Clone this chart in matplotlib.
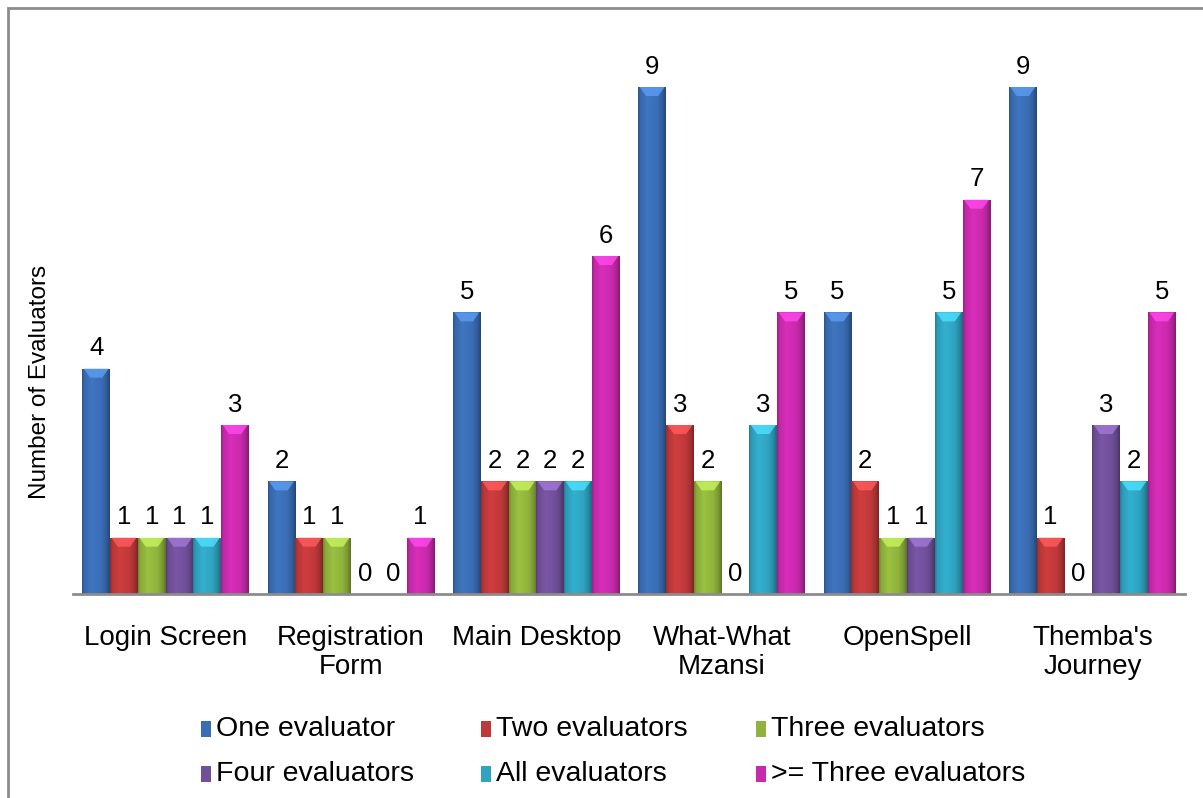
import numpy as np
import matplotlib
matplotlib.use("Agg")
import matplotlib.pyplot as plt
from matplotlib.patches import Rectangle, Polygon
from matplotlib.colors import to_rgb

plt.rcParams['font.family'] = ['Liberation Sans', 'DejaVu Sans']

categories = ["Login Screen", "Registration\nForm", "Main Desktop",
              "What-What\nMzansi", "OpenSpell", "Themba's\nJourney"]
series_names = ["One evaluator", "Two evaluators", "Three evaluators",
                "Four evaluators", "All evaluators", ">= Three evaluators"]
one_eval = [4, 2, 5, 9, 5, 9]
two_eval = [1, 1, 2, 3, 2, 1]
three_eval = [1, 1, 2, 2, 1, 0]
four_eval = [1, 0, 2, 0, 1, 3]
all_eval = [1, 0, 2, 3, 5, 2]
three_plus_eval = [3, 1, 6, 5, 7, 5]
series_values = [one_eval, two_eval, three_eval, four_eval, all_eval, three_plus_eval]
colors = ["#3a6db3", "#c0393a", "#8fb33c", "#71509a", "#2fa3c0", "#c92aad"]

W, H = 1203, 798
fig = plt.figure(figsize=(W / 100, H / 100), dpi=100)
ax = fig.add_axes([73 / W, 1 - 594 / H, 1112 / W, 534 / H])

n_series = len(series_values)
bar_w = 0.15
x = np.arange(len(categories))
ymax = 534 / 56.33
ax.set_xlim(-0.5, len(categories) - 0.5)
ax.set_ylim(0, ymax)


def shaded_bar(patch, base):
    """Paint a bevelled, glossy look into a bar patch."""
    x0, y0 = patch.get_x(), patch.get_y()
    w, h = patch.get_width(), patch.get_height()
    if h <= 0:
        return
    rgb = np.array(to_rgb(base))
    t = np.linspace(0, 1, 64)
    prof = np.interp(t, [0, 0.08, 0.35, 0.7, 0.88, 1.0],
                     [0.78, 0.95, 1.08, 1.0, 0.85, 0.65])
    img = np.clip(rgb[None, :] * prof[:, None], 0, 1)[None, :, :]
    im = ax.imshow(img, extent=[x0, x0 + w, y0, y0 + h], aspect='auto',
                   interpolation='bilinear', zorder=2)
    im.set_clip_path(patch)
    # lighter cap at the top of the bar
    cap_h = min(0.16, h * 0.5)
    light = np.clip(rgb * 1.25 + 0.08, 0, 1)
    cap = Polygon([[x0 + w * 0.05, y0 + h], [x0 + w * 0.95, y0 + h],
                   [x0 + w * 0.72, y0 + h - cap_h], [x0 + w * 0.28, y0 + h - cap_h]],
                  closed=True, facecolor=light, edgecolor='none', alpha=0.8, zorder=3)
    ax.add_patch(cap)


for i, (vals, col) in enumerate(zip(series_values, colors)):
    offs = (i - (n_series - 1) / 2) * bar_w
    bars = ax.bar(x + offs, vals, width=bar_w, color=col, edgecolor='none', zorder=1)
    for b, v in zip(bars, vals):
        shaded_bar(b, col)
        ax.annotate(str(v), (b.get_x() + b.get_width() / 2, v),
                    xytext=(0, 6), textcoords='offset points',
                    ha='center', va='bottom', fontsize=18.5, color='black')

for s in ['top', 'right', 'left']:
    ax.spines[s].set_visible(False)
ax.spines['bottom'].set_color('#8c8c8c')
ax.spines['bottom'].set_linewidth(2)
ax.spines['bottom'].set_zorder(4)
ax.set_yticks([])
ax.set_xticks(x)
ax.set_xticklabels(categories, fontsize=20, linespacing=1.15)
ax.tick_params(axis='x', length=0, pad=22)

fig.text(40 / W, 1 - 382 / H, "Number of Evaluators", rotation=90,
         ha='center', va='center', fontsize=17.5)

# legend, three entries per row
leg_cols = [206, 486, 761]
leg_rows = [729, 774]
for i, (name, col) in enumerate(zip(series_names, colors)):
    cx = leg_cols[i % 3]
    cy = leg_rows[i // 3]
    fig.patches.append(Rectangle(((cx - 5) / W, 1 - (cy + 8) / H), 10 / W, 16 / H,
                                 transform=fig.transFigure, facecolor=col,
                                 edgecolor='none'))
    fig.text((cx + 10) / W, 1 - cy / H, name, ha='left', va='center', fontsize=20.5)

# chart frame
fig.patches.append(Rectangle((8 / W, -0.1), 1.2, 1 - 8 / H + 0.1,
                             transform=fig.transFigure, fill=False,
                             edgecolor='#8c8c8c', linewidth=2))

fig.savefig("out.png", dpi=100)
